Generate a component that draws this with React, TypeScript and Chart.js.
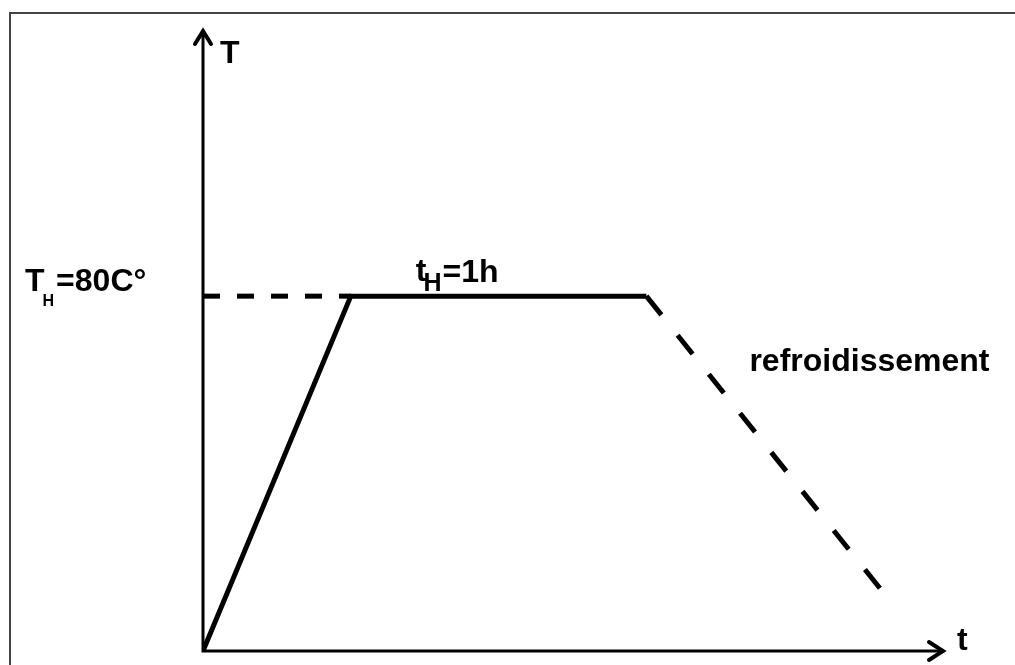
import React, { useEffect, useRef } from "react";
import { Chart, registerables } from "chart.js";

Chart.register(...registerables);

// Data (time in hours, temperature in °C)
const heatTimes = [0, 0.5, 1.5];
const heatTemps = [0, 80, 80];
const coolTimes = [1.5, 2.3];
const coolTemps = [80, 13.3];
const refTimes = [0, 0.5];
const refTemps = [80, 80];
const X_MAX = 2.5;
const Y_MAX = 140;

const yAxisLabel = "T";
const xAxisLabel = "t";
const tempLabelMain = "T";
const tempLabelSub = "H";
const tempLabelRest = "=80C°";
const timeLabelMain = "t";
const timeLabelSub = "H";
const timeLabelRest = "=1h";
const coolLabel = "refroidissement";

const FONT = '"Liberation Sans", Arial, sans-serif';

const toPts = (xs: number[], ys: number[]) => xs.map((x, i) => ({ x, y: ys[i] }));

const drawingPlugin = {
  id: "drawing",
  beforeDraw(chart: any) {
    const ctx = chart.ctx;
    ctx.save();
    ctx.fillStyle = "#ffffff";
    ctx.fillRect(0, 0, chart.width, chart.height);
    // frame
    ctx.strokeStyle = "#444444";
    ctx.lineWidth = 2;
    ctx.beginPath();
    ctx.moveTo(10, chart.height);
    ctx.lineTo(10, 13);
    ctx.lineTo(chart.width, 13);
    ctx.stroke();
    ctx.restore();
  },
  afterDraw(chart: any) {
    const ctx = chart.ctx;
    const xs = chart.scales.x;
    const ys = chart.scales.y;
    const area = chart.chartArea;
    const x0 = xs.getPixelForValue(0);
    const y0 = ys.getPixelForValue(0);
    ctx.save();
    ctx.strokeStyle = "#000";
    ctx.fillStyle = "#000";
    ctx.lineCap = "butt";
    ctx.lineJoin = "miter";
    // axes
    ctx.lineWidth = 3;
    ctx.beginPath();
    ctx.moveTo(x0, y0 + 1.5);
    ctx.lineTo(x0, area.top);
    ctx.moveTo(x0 - 1.5, y0);
    ctx.lineTo(area.right, y0);
    ctx.stroke();
    // arrow heads
    ctx.lineWidth = 4;
    ctx.lineCap = "round";
    ctx.beginPath();
    ctx.moveTo(x0 - 8, area.top + 14);
    ctx.lineTo(x0, area.top + 1);
    ctx.lineTo(x0 + 8, area.top + 14);
    ctx.moveTo(area.right - 13, y0 - 9);
    ctx.lineTo(area.right + 1, y0);
    ctx.lineTo(area.right - 13, y0 + 9);
    ctx.stroke();

    // texts
    ctx.textBaseline = "alphabetic";
    ctx.textAlign = "left";
    const big = `bold 32px ${FONT}`;
    ctx.font = big;
    ctx.fillText(yAxisLabel, x0 + 17, area.top + 33);
    ctx.fillText(xAxisLabel, area.right + 15, y0 - 1);

    // T_H = 80C°
    const yH = ys.getPixelForValue(heatTemps[1]);
    let tx = 25;
    ctx.font = big;
    ctx.fillText(tempLabelMain, tx, yH - 5);
    tx += ctx.measureText(tempLabelMain).width - 2;
    ctx.font = `bold 16px ${FONT}`;
    ctx.fillText(tempLabelSub, tx, yH + 10);
    tx += ctx.measureText(tempLabelSub).width + 2;
    ctx.font = big;
    ctx.fillText(tempLabelRest, tx, yH - 5);

    // t_H = 1h
    let sx = xs.getPixelForValue(heatTimes[1]) + 65;
    ctx.font = big;
    ctx.fillText(timeLabelMain, sx, yH - 15);
    sx += ctx.measureText(timeLabelMain).width - 3;
    ctx.font = `bold 25px ${FONT}`;
    ctx.fillText(timeLabelSub, sx, yH - 5);
    sx += ctx.measureText(timeLabelSub).width + 1;
    ctx.font = big;
    ctx.fillText(timeLabelRest, sx, yH - 14);

    // refroidissement
    ctx.font = big;
    ctx.fillText(coolLabel, xs.getPixelForValue(coolTimes[0]) + 103, yH + 75);
    ctx.restore();
  },
};

export default function App() {
  const ref = useRef<HTMLCanvasElement | null>(null);
  useEffect(() => {
    if (!ref.current) return;
    const chart = new Chart(ref.current, {
      type: "line",
      data: {
        datasets: [
          {
            data: toPts(heatTimes, heatTemps),
            borderColor: "#000",
            borderWidth: 5,
            pointRadius: 0,
            tension: 0,
            borderJoinStyle: "miter",
          },
          {
            data: toPts(coolTimes, coolTemps),
            borderColor: "#000",
            borderWidth: 5,
            borderDash: [24, 26],
            pointRadius: 0,
            tension: 0,
          },
          {
            data: toPts(refTimes, refTemps),
            borderColor: "#000",
            borderWidth: 5,
            borderDash: [17, 17],
            pointRadius: 0,
            tension: 0,
          },
        ],
      },
      options: {
        responsive: false,
        animation: false,
        layout: { padding: { left: 203, right: 73, top: 30, bottom: 14 } },
        plugins: { legend: { display: false }, tooltip: { enabled: false } },
        scales: {
          x: { type: "linear", min: 0, max: X_MAX, display: false },
          y: { type: "linear", min: 0, max: Y_MAX, display: false },
        },
      },
      plugins: [drawingPlugin],
    });
    return () => chart.destroy();
  }, []);
  return (
    <div style={{ position: "absolute", left: 0, top: 0, width: 1015, height: 665, background: "#fff" }}>
      <canvas ref={ref} width={1015} height={665} style={{ display: "block" }} />
    </div>
  );
}
